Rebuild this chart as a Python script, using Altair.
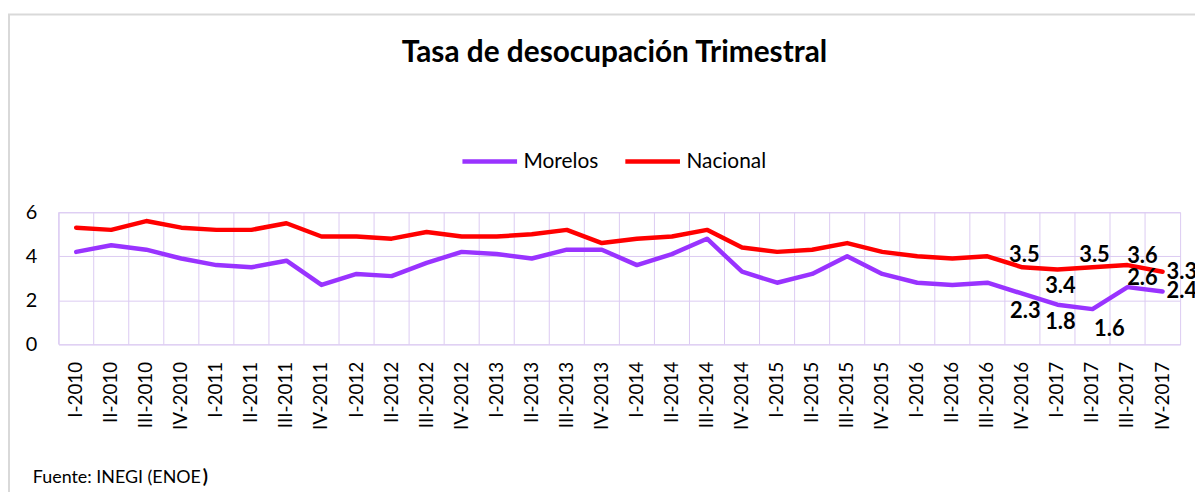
import altair as alt
import pandas as pd

quarters = [
    "I-2010", "II-2010", "III-2010", "IV-2010",
    "I-2011", "II-2011", "III-2011", "IV-2011",
    "I-2012", "II-2012", "III-2012", "IV-2012",
    "I-2013", "II-2013", "III-2013", "IV-2013",
    "I-2014", "II-2014", "III-2014", "IV-2014",
    "I-2015", "II-2015", "III-2015", "IV-2015",
    "I-2016", "II-2016", "III-2016", "IV-2016",
    "I-2017", "II-2017", "III-2017", "IV-2017",
]
morelos = [4.2, 4.5, 4.3, 3.9, 3.6, 3.5, 3.8, 2.7, 3.2, 3.1, 3.7, 4.2,
           4.1, 3.9, 4.3, 4.3, 3.6, 4.1, 4.8, 3.3, 2.8, 3.2, 4.0, 3.2,
           2.8, 2.7, 2.8, 2.3, 1.8, 1.6, 2.6, 2.4]
nacional = [5.3, 5.2, 5.6, 5.3, 5.2, 5.2, 5.5, 4.9, 4.9, 4.8, 5.1, 4.9,
            4.9, 5.0, 5.2, 4.6, 4.8, 4.9, 5.2, 4.4, 4.2, 4.3, 4.6, 4.2,
            4.0, 3.9, 4.0, 3.5, 3.4, 3.5, 3.6, 3.3]
series_names = ["Morelos", "Nacional"]
series_colors = ["#9933FF", "#FF0000"]
labeled_quarters = ["IV-2016", "I-2017", "II-2017", "III-2017", "IV-2017"]
nacional_label_pos = ["above", "below", "above", "above-right", "right"]
morelos_label_pos = ["below", "below", "below-right", "above-right", "right"]
title_text = "Tasa de desocupación Trimestral"
footer_text = ["Fuente: INEGI (ENOE", ")"]

FONT = "Lato"
GRID = "#DCCBF2"
W, H = 1129, 133

rows = []
for q, m, n in zip(quarters, morelos, nacional):
    rows.append({"Trimestre": q, "Serie": "Morelos", "Tasa": m})
    rows.append({"Trimestre": q, "Serie": "Nacional", "Tasa": n})
df = pd.DataFrame(rows)

lab_rows = []
for q, pn, pm in zip(labeled_quarters, nacional_label_pos, morelos_label_pos):
    i = quarters.index(q)
    lab_rows.append({"Trimestre": q, "Serie": "Nacional", "Tasa": nacional[i], "pos": pn})
    lab_rows.append({"Trimestre": q, "Serie": "Morelos", "Tasa": morelos[i], "pos": pm})
lab_df = pd.DataFrame(lab_rows)

grid_df = pd.DataFrame({"Trimestre": quarters})


def make_x(band_position=None):
    kw = {}
    if band_position is not None:
        kw["bandPosition"] = band_position
    return alt.X(
        "Trimestre:N", sort=quarters,
        scale=alt.Scale(type="band", paddingInner=0, paddingOuter=0),
        axis=alt.Axis(title=None, labelAngle=-90, labelFontSize=19, labelFont=FONT,
                      labelColor="#000000", labelPadding=17, ticks=False,
                      domain=False, grid=False),
        **kw,
    )


y_enc = alt.Y(
    "Tasa:Q", scale=alt.Scale(domain=[0, 6], nice=False),
    axis=alt.Axis(title=None, values=[0, 2, 4, 6], grid=True, gridColor=GRID,
                  gridWidth=1, domain=False, ticks=False, labelFontSize=20,
                  labelFont=FONT, labelPadding=22, labelColor="#000000"),
)

border = alt.Chart(pd.DataFrame({"a": [0]})).mark_rect(
    filled=False, color="#D9D9D9", strokeWidth=2
).encode(x=alt.value(-50), y=alt.value(-199), x2=alt.value(1400), y2=alt.value(600))

vgrid = alt.Chart(grid_df).mark_rule(color=GRID, strokeWidth=1).encode(x=make_x(0))

lines = alt.Chart(df).mark_line(strokeWidth=4.5, strokeJoin="round", strokeCap="round").encode(
    x=make_x(),
    y=y_enc,
    color=alt.Color(
        "Serie:N",
        scale=alt.Scale(domain=series_names, range=series_colors),
        legend=alt.Legend(title=None, orient="none", legendX=404, legendY=-81,
                          direction="horizontal", symbolType="stroke",
                          symbolStrokeWidth=4.5, symbolSize=3025, labelFontSize=21,
                          labelFont=FONT, labelColor="#000000", columnPadding=17,
                          labelOffset=4, padding=0),
    ),
)

placements = {
    "above": dict(dx=2, dy=-12, align="center"),
    "below": dict(dx=3, dy=17, align="center"),
    "above-right": dict(dx=15, dy=-9, align="center"),
    "below-right": dict(dx=17, dy=20, align="center"),
    "right": dict(dx=4, dy=0, align="left"),
}
texts = []
for pos, opts in placements.items():
    texts.append(
        alt.Chart(lab_df).transform_filter(alt.datum.pos == pos).mark_text(
            font=FONT, fontSize=22, fontWeight="bold", color="#000000",
            baseline="middle", **opts
        ).encode(x=make_x(), y=y_enc, text=alt.Text("Tasa:Q", format=".1f"))
    )

footer_main = alt.Chart(pd.DataFrame({"t": [footer_text[0]]})).mark_text(
    font=FONT, fontSize=18, align="left", baseline="alphabetic", color="#000000"
).encode(x=alt.value(-26), y=alt.value(273), text="t:N")
footer_paren = alt.Chart(pd.DataFrame({"t": [footer_text[1]]})).mark_text(
    font=FONT, fontSize=19, fontWeight="bold", align="left", baseline="alphabetic",
    color="#000000"
).encode(x=alt.value(145), y=alt.value(273), text="t:N")

chart = alt.layer(border, vgrid, lines, *texts, footer_main, footer_paren).properties(
    width=W, height=H,
    title=alt.TitleParams(title_text, anchor="middle", frame="group", fontSize=30,
                          fontWeight="bold", font=FONT, color="#000000", offset=-55, dx=-5),
    autosize=alt.AutoSizeParams(type="none"),
    padding={"left": 51, "top": 204, "right": 15, "bottom": 147},
).configure_view(stroke=GRID, strokeWidth=1)

chart.save("out.html", embed_options={"renderer": "svg", "actions": False})
